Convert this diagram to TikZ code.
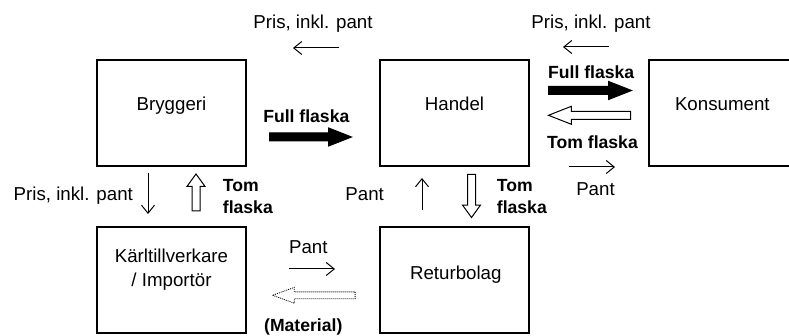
\documentclass[tikz,border=0pt]{standalone}
\usepackage{fontspec}
\setmainfont{Liberation Sans}
\usetikzlibrary{shapes.arrows,arrows.meta}

\begin{document}
\begin{tikzpicture}[x=1pt,y=1pt,
    font=\fontsize{18.7}{22}\selectfont,
    box/.style={draw,line width=1.2pt,minimum width=149pt,minimum height=106pt,inner sep=0pt},
    txt/.style={inner sep=0pt},
    bold/.style={txt,font=\fontsize{17.6}{22}\selectfont\bfseries},
    flow/.style={line width=1pt,-{Straight Barb[length=8pt,width=13pt]}},
    blockarrow/.style={single arrow,anchor=tail,inner sep=3.5pt,
        single arrow head extend=5pt,single arrow tip angle=43,line width=1pt},
    fullarrow/.style={blockarrow,draw,fill=black},
    emptyarrow/.style={blockarrow,draw,fill=white},
    dottedarrow/.style={blockarrow,draw,densely dotted,line width=0.8pt,inner sep=3pt,
        single arrow head extend=4.5pt,single arrow tip angle=40}]
    \clip (0,0) rectangle (789,336);

    \node[box] (bryggeri) at (171.5,223) {};
    \node[box] (handel) at (454.5,223) {};
    \node[box] (konsument) at (723.5,223) {};
    \node[box] (karl) at (171.5,56) {};
    \node[box] (retur) at (454.5,56) {};

    \node[txt,anchor=base] (bryggeritext) at (171.5,225.5) {Bryggeri};
    \node[txt,anchor=base] (handeltext) at (454.5,225.3) {Handel};
    \node[txt,anchor=base] (konsumenttext) at (722.3,225.3) {Konsument};
    \node[txt,align=center] (karltext) at (171.5,66.2) {K\"arltillverkare\\[2pt]/ Import\"or};
    \node[txt,anchor=base] (returtext) at (455.8,56.6) {Returbolag};

    % betalningar
    \node[txt,anchor=base] (pris1) at (313,307.5) {Pris, inkl. pant};
    \coordinate (p1s) at (339,288);
    \coordinate (p1e) at (293,288);
    \draw[flow] (p1s) -- (p1e);

    \node[txt,anchor=base] (pris2) at (591,307.5) {Pris, inkl. pant};
    \coordinate (p2s) at (609,289);
    \coordinate (p2e) at (563,289);
    \draw[flow] (p2s) -- (p2e);

    \node[txt,anchor=base] (pant1) at (595.5,140) {Pant};
    \coordinate (p3s) at (569,169);
    \coordinate (p3e) at (615,169);
    \draw[flow] (p3s) -- (p3e);

    \node[txt,anchor=base] (pris3) at (73.3,135.3) {Pris, inkl. pant};
    \coordinate (p4s) at (148,163);
    \coordinate (p4e) at (148,122);
    \draw[flow] (p4s) -- (p4e);

    \node[txt,anchor=base] (pant2) at (364.7,135.3) {Pant};
    \coordinate (p5s) at (422,126);
    \coordinate (p5e) at (422,158);
    \draw[flow] (p5s) -- (p5e);

    \node[txt,anchor=base] (pant3) at (308.3,82.7) {Pant};
    \coordinate (p6s) at (289,67);
    \coordinate (p6e) at (335,67);
    \draw[flow] (p6s) -- (p6e);

    % flaskor
    \node[bold,anchor=base] (full1) at (306.3,213.7) {Full flaska};
    \node[fullarrow,minimum height=82pt] (a1) at (269,199) {};

    \node[bold,anchor=base] (full2) at (591.2,257.7) {Full flaska};
    \node[fullarrow,minimum height=83pt] (a2) at (548,245.5) {};

    \node[emptyarrow,minimum height=82pt,shape border rotate=180] (a3) at (631,220.7) {};
    \node[bold,anchor=base] (tom1) at (592.5,187.7) {Tom flaska};

    \node[emptyarrow,minimum height=37pt,shape border rotate=90,single arrow tip angle=72] (a4) at (196,124.5) {};
    \node[bold,anchor=west,align=left] (tom2) at (222.7,139.2) {Tom\\flaska};

    \node[emptyarrow,minimum height=43pt,shape border rotate=270,single arrow tip angle=72] (a5) at (471.5,162) {};
    \node[bold,anchor=west,align=left] (tom3) at (496.7,139.2) {Tom\\flaska};

    \node[dottedarrow,minimum height=82.5pt,shape border rotate=180] (a6) at (355.5,40.7) {};
    \node[bold,anchor=base] (material) at (303.3,4.3) {(Material)};
\end{tikzpicture}
\end{document}
